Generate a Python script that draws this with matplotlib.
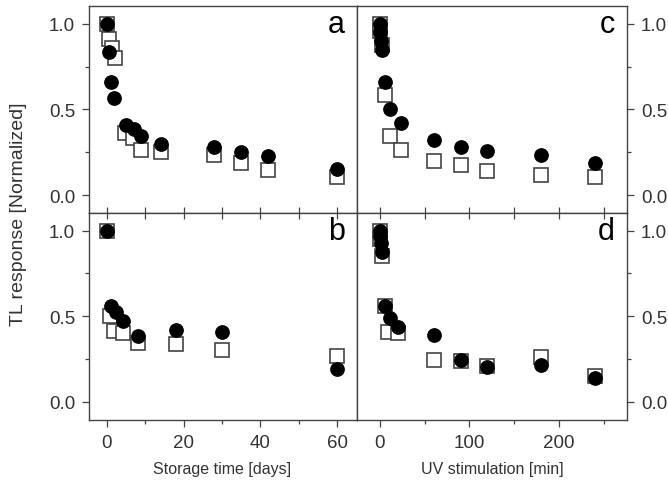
import matplotlib
matplotlib.use("Agg")
import matplotlib.pyplot as plt
from matplotlib.ticker import MultipleLocator, FormatStrFormatter

plt.rcParams["font.family"] = ["Liberation Sans", "DejaVu Sans"]
TXT = "#333333"
EDGE = "#444444"

# ---- panel a: storage time [days] ----
a_circ_x = [0, 0.6, 1, 2, 5, 7, 9, 14, 28, 35, 42, 60]
a_circ_y = [1.0, 0.835, 0.66, 0.567, 0.408, 0.388, 0.346, 0.301, 0.278, 0.249, 0.227, 0.155]
a_sq_x = [0, 0.6, 1.3, 2.2, 4.8, 6.9, 9, 14, 28, 35, 42, 60]
a_sq_y = [1.0, 0.91, 0.858, 0.80, 0.36, 0.334, 0.262, 0.249, 0.233, 0.185, 0.146, 0.107]

# ---- panel b: storage time [days] ----
b_circ_x = [0, 1, 2.4, 4.2, 8.2, 18, 30, 60]
b_circ_y = [1.0, 0.558, 0.526, 0.474, 0.386, 0.421, 0.409, 0.191]
b_sq_x = [0, 0.9, 1.9, 4.2, 8.2, 18, 30, 60]
b_sq_y = [1.0, 0.503, 0.415, 0.402, 0.343, 0.337, 0.304, 0.265]

# ---- panel c: UV stimulation [min] ----
c_circ_x = [0, 0.5, 1, 2, 5.6, 11, 23.5, 60, 90, 120, 180, 240]
c_circ_y = [1.0, 0.95, 0.90, 0.845, 0.66, 0.50, 0.423, 0.32, 0.278, 0.256, 0.233, 0.189]
c_sq_x = [0, 0.5, 2, 5.6, 11, 23.5, 60, 90, 120, 180, 240]
c_sq_y = [1.0, 0.96, 0.874, 0.582, 0.346, 0.262, 0.2, 0.175, 0.14, 0.116, 0.103]

# ---- panel d: UV stimulation [min] ----
d_circ_x = [0, 0.5, 1, 2, 5.6, 11, 20, 60, 90, 120, 180, 240]
d_circ_y = [1.0, 0.97, 0.93, 0.874, 0.561, 0.488, 0.435, 0.392, 0.244, 0.201, 0.215, 0.137]
d_sq_x = [0, 0.5, 2, 5.6, 9.3, 20, 60, 90, 120, 180, 240]
d_sq_y = [1.0, 0.95, 0.854, 0.557, 0.41, 0.40, 0.244, 0.24, 0.211, 0.26, 0.152]

fig = plt.figure(figsize=(6.68, 4.85), dpi=100)
W, H = 668.0, 485.0


def rect(x0, x1, y0, y1):
    return [x0 / W, 1 - y1 / H, (x1 - x0) / W, (y1 - y0) / H]


ax_a = fig.add_axes(rect(89, 357, 7.3, 214))
ax_b = fig.add_axes(rect(89, 357, 214, 420.7))
ax_c = fig.add_axes(rect(357, 627, 7.3, 214))
ax_d = fig.add_axes(rect(357, 627, 214, 420.7))

panels = [
    (ax_a, a_sq_x, a_sq_y, a_circ_x, a_circ_y, "a"),
    (ax_b, b_sq_x, b_sq_y, b_circ_x, b_circ_y, "b"),
    (ax_c, c_sq_x, c_sq_y, c_circ_x, c_circ_y, "c"),
    (ax_d, d_sq_x, d_sq_y, d_circ_x, d_circ_y, "d"),
]

for ax, sx, sy, cx, cy, letter in panels:
    ax.plot(sx, sy, ls="none", marker="s", ms=9.8, mfc="white",
            mec=EDGE, mew=1.2, zorder=2)
    ax.plot(cx, cy, ls="none", marker="o", ms=9.6, mfc="black",
            mec="black", zorder=3)
    ax.set_ylim(-0.105, 1.103)
    ax.yaxis.set_major_locator(MultipleLocator(0.5))
    ax.yaxis.set_minor_locator(MultipleLocator(0.25))
    ax.yaxis.set_major_formatter(FormatStrFormatter("%.1f"))
    for s in ax.spines.values():
        s.set_color(EDGE)
        s.set_linewidth(1.0)
    ax.tick_params(which="both", colors=EDGE, labelcolor=TXT, labelsize=13.5,
                   width=0.9)
    ax.tick_params(which="major", length=5, pad=5)
    ax.tick_params(which="minor", length=3)
    ax.text(0.955, 0.915, letter, transform=ax.transAxes, ha="right",
            va="center", fontsize=22, color="black")

for ax in (ax_a, ax_b):
    ax.set_xlim(-4.6, 65.1)
    ax.xaxis.set_major_locator(MultipleLocator(20))
    ax.xaxis.set_minor_locator(MultipleLocator(10))
    ax.tick_params(axis="y", which="both", direction="out", left=True,
                   right=False, labelleft=True)

for ax in (ax_c, ax_d):
    ax.set_xlim(-25.7, 276)
    ax.xaxis.set_major_locator(MultipleLocator(100))
    ax.xaxis.set_minor_locator(MultipleLocator(50))
    ax.tick_params(axis="y", which="both", direction="out", left=False,
                   right=True, labelleft=False, labelright=True)

# top row: ticks point up into the panel from the shared border
for ax in (ax_a, ax_c):
    ax.tick_params(axis="x", which="both", direction="in", bottom=True,
                   top=False, labelbottom=False, length=4)

# bottom row: inward ticks on the shared border, outward ticks below
for ax, step in ((ax_b, 10), (ax_d, 50)):
    ax.tick_params(axis="x", which="both", direction="out", bottom=True,
                   top=False, labelbottom=True)
    sec = ax.secondary_xaxis("top")
    sec.xaxis.set_major_locator(MultipleLocator(step))
    sec.tick_params(direction="in", length=4, colors=EDGE, width=0.9,
                    labeltop=False)
    sec.spines["top"].set_visible(False)

fig.text(0.027, 1 - 214 / H, "TL response [Normalized]", rotation=90,
         ha="center", va="center", fontsize=14, color=TXT)
fig.text(222 / W, 1 - 470 / H, "Storage time [days]", ha="center",
         va="center", fontsize=11.5, color=TXT)
fig.text(492 / W, 1 - 470 / H, "UV stimulation [min]", ha="center",
         va="center", fontsize=11.5, color=TXT)

fig.savefig("out.png", dpi=100)
